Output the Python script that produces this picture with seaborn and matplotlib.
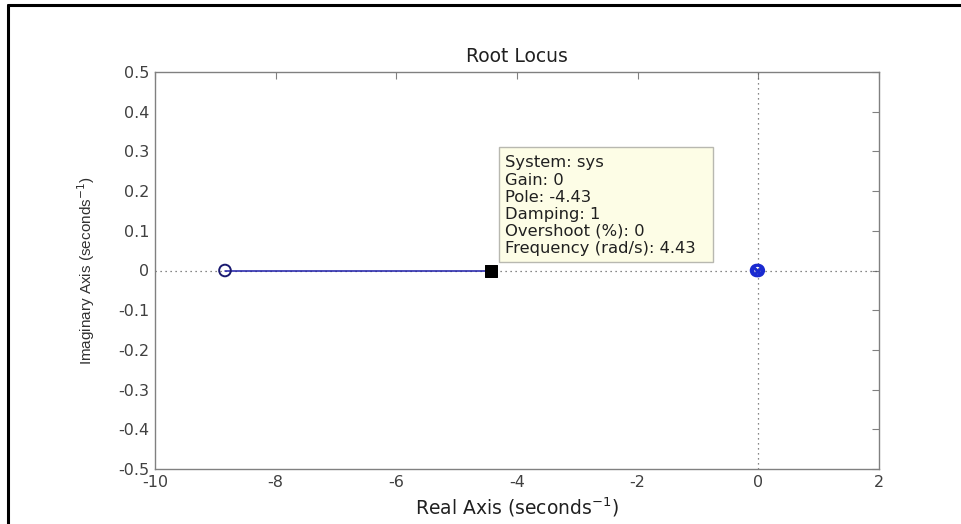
import matplotlib
matplotlib.use("Agg")
import matplotlib.pyplot as plt
import seaborn as sns
import pandas as pd
from matplotlib.patches import Rectangle

# Data
zeros_re = [-8.84]
zeros_im = [0.0]
poles_re = [0.0, -0.03]
poles_im = [0.0, 0.0]
locus_re = [-8.84, -4.43]
locus_im = [0.0, 0.0]
sel_re = [-4.43]
sel_im = [0.0]
xticks = [-10, -8, -6, -4, -2, 0, 2]
yticks = [-0.5, -0.4, -0.3, -0.2, -0.1, 0, 0.1, 0.2, 0.3, 0.4, 0.5]
ytick_labels = ["-0.5", "-0.4", "-0.3", "-0.2", "-0.1", "0", "0.1", "0.2", "0.3", "0.4", "0.5"]
tip_lines = ["System: sys", "Gain: 0", "Pole: -4.43", "Damping: 1",
             "Overshoot (%): 0", "Frequency (rad/s): 4.43"]

sns.set_style("white")
plt.rcParams['font.family'] = ['DejaVu Sans']
plt.rcParams['axes.unicode_minus'] = False

fig = plt.figure(figsize=(9.61, 5.24), dpi=100)
ax = fig.add_axes([155/961, 1 - 469/524, (879-155)/961, (469-72)/524])

# figure border (top and left)
fig.add_artist(plt.Line2D([8/961, 8/961], [0, 1 - 5/524], color='black', lw=2.2, transform=fig.transFigure))
fig.add_artist(plt.Line2D([8/961, 1], [1 - 5/524, 1 - 5/524], color='black', lw=2.2, transform=fig.transFigure))

# dotted axes lines
ax.axhline(0, color='#606060', ls=(0, (1, 3)), lw=0.9, zorder=1)
ax.axvline(0, color='#606060', ls=(0, (1, 3)), lw=0.9, zorder=1)

locus = pd.DataFrame({"re": locus_re, "im": locus_im})
sns.lineplot(data=locus, x="re", y="im", ax=ax, color='#1c1ca8', lw=1.1, zorder=3)

sns.scatterplot(x=zeros_re, y=zeros_im, ax=ax, marker='o', s=70, facecolor='none',
                edgecolor='#1a1a70', linewidth=1.4, zorder=4)
sns.scatterplot(x=poles_re, y=poles_im, ax=ax, marker='o', s=60, facecolor='none',
                edgecolor='#1a2ad0', linewidth=2.0, zorder=4)
sns.scatterplot(x=poles_re, y=poles_im, ax=ax, marker='x', s=30,
                color='#1a2ad0', linewidth=1.6, zorder=4)
sns.scatterplot(x=sel_re, y=sel_im, ax=ax, marker='s', s=80, color='black',
                edgecolor='black', zorder=5)

ax.set_xlim(-10, 2)
ax.set_ylim(-0.5, 0.5)
ax.set_xticks(xticks)
ax.set_xticklabels([str(t) for t in xticks])
ax.set_yticks(yticks)
ax.set_yticklabels(ytick_labels)
ax.tick_params(direction='in', top=True, right=True, length=5, width=0.8,
               color='#808080', labelcolor='#404040', labelsize=11.5, pad=4)
for sp in ax.spines.values():
    sp.set_color('#808080')
    sp.set_linewidth(1.0)

ax.set_title("Root Locus", fontsize=13.5, color='#202020', pad=7)
ax.set_xlabel("Real Axis (seconds$^{-1}$)", fontsize=13.5, color='#202020', labelpad=4)
ax.set_ylabel("Imaginary Axis (seconds$^{-1}$)", fontsize=11, color='#303030', labelpad=15,
              family=['Liberation Sans', 'DejaVu Sans'])

# datatip
bx0, by0 = (499-155)/724, 1 - (262-72)/397
bw, bh = (713-499)/724, (262-147)/397
ax.add_patch(Rectangle((bx0, by0), bw, bh, transform=ax.transAxes,
                       facecolor='#fdfde6', edgecolor='#b8b8b0', lw=1.0, zorder=6))
for i, line in enumerate(tip_lines):
    ax.text(bx0 + 6/724, 1 - (163 + i*17 - 72)/397, line, transform=ax.transAxes,
            fontsize=11.8, color='#202020', va='center', ha='left', zorder=7)

fig.savefig("out.png", dpi=100, facecolor='white')
